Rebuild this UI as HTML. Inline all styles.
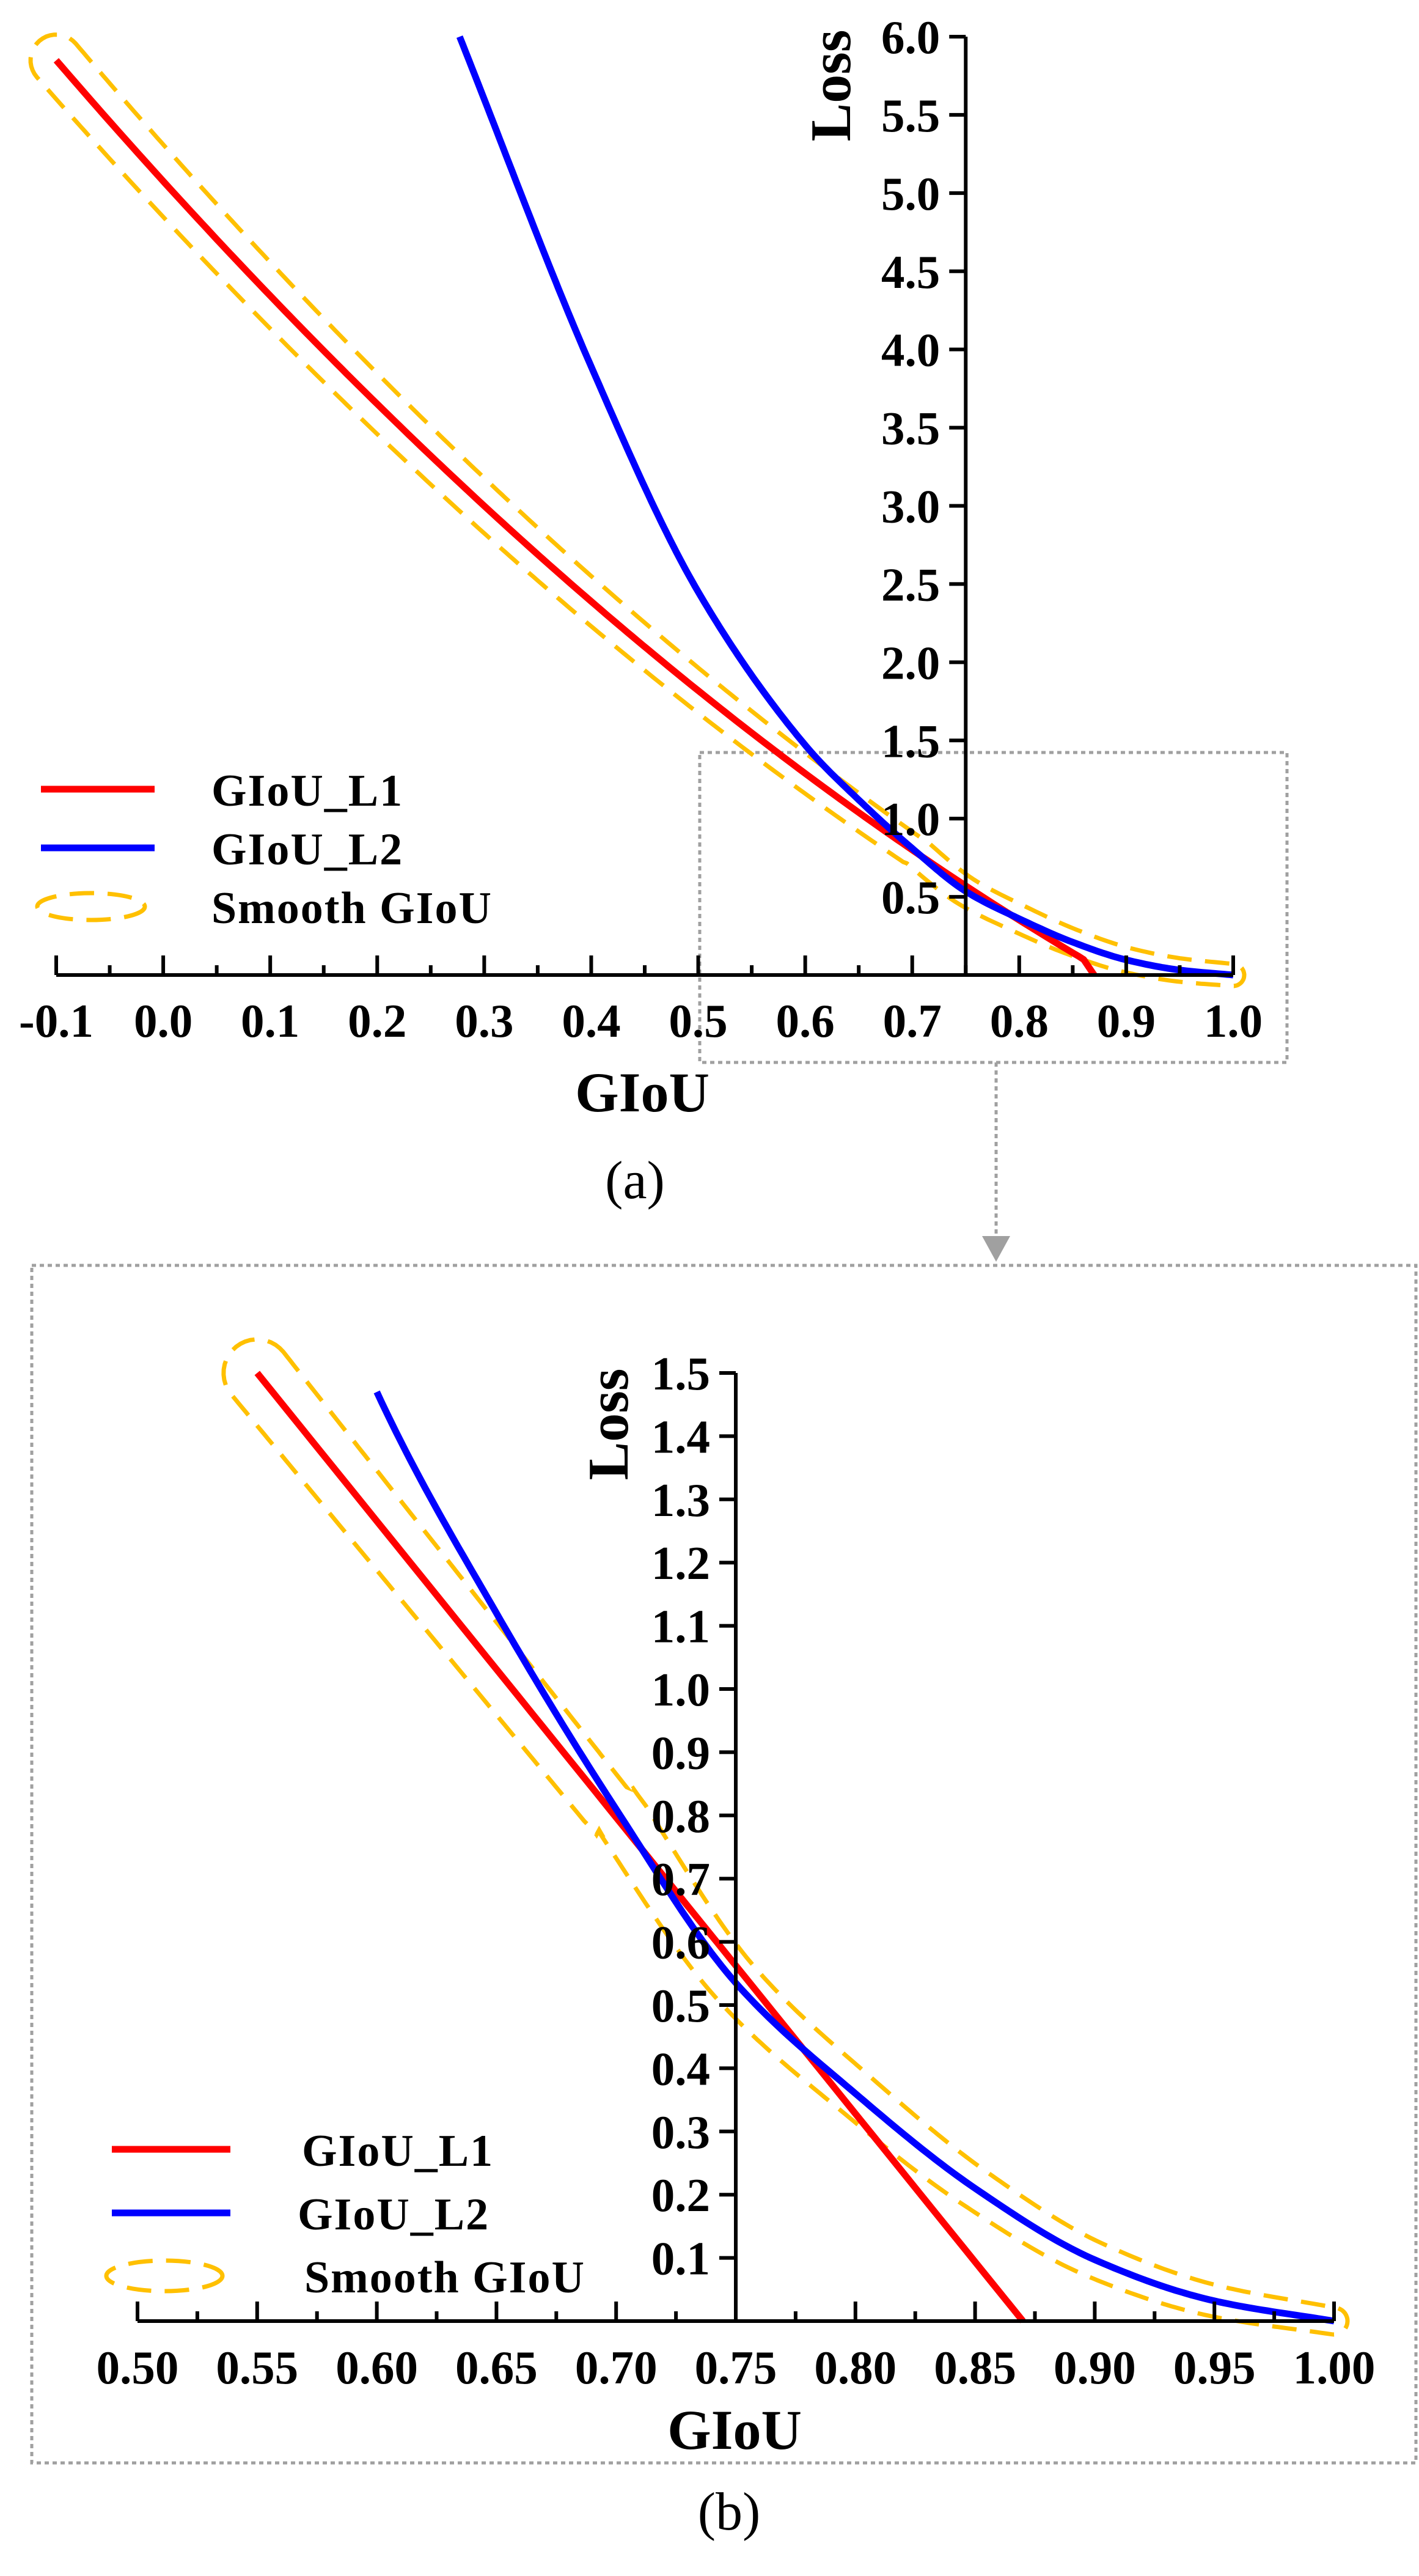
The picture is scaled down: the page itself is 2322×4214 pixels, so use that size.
<!DOCTYPE html>
<html><head><meta charset="utf-8">
<style>
html,body{margin:0;padding:0;background:#fff;}
svg{display:block;}
text{font-family:"Liberation Serif","Times New Roman",serif;font-weight:bold;fill:#000;}
</style></head>
<body>
<svg id="s" width="2322" height="4214" viewBox="0 0 2322 4214" xmlns="http://www.w3.org/2000/svg">
<rect width="2322" height="4214" fill="#fff"/>
<rect x="1145" y="1231" width="961" height="507" fill="none" stroke="#a0a0a0" stroke-width="5" stroke-dasharray="7 6"/>
<line x1="1630" y1="1738" x2="1630" y2="2030" stroke="#a0a0a0" stroke-width="5" stroke-dasharray="7 6"/>
<polygon points="1607,2022 1653,2022 1630,2064" fill="#a0a0a0"/>
<rect x="52" y="2070" width="2265" height="1959" fill="none" stroke="#a0a0a0" stroke-width="5" stroke-dasharray="7 6"/>
<text x="1039" y="1960" font-size="88" text-anchor="middle" style="font-weight:normal">(a)</text>
<text x="1193" y="4138" font-size="88" text-anchor="middle" style="font-weight:normal">(b)</text>
<g id="ga"></g>
<g id="gb"></g>
</svg>
<script>
var NS="http://www.w3.org/2000/svg";
function el(p,t,a,txt){var e=document.createElementNS(NS,t);for(var k in a)e.setAttribute(k,a[k]);if(txt!=null)e.textContent=txt;p.appendChild(e);return e;}
function sample(f,a,b,n){var o=[];for(var i=0;i<=n;i++){var x=a+(b-a)*i/n;o.push([x,f(x)]);}return o;}
function pathOf(p){return "M"+p.map(function(q){return q[0].toFixed(1)+","+q[1].toFixed(1)}).join(" L");}
function monotone(P){var n=P.length,d=[],m=[];for(var i=0;i<n-1;i++)d.push((P[i+1][1]-P[i][1])/(P[i+1][0]-P[i][0]));
 m[0]=d[0];m[n-1]=d[n-2];for(i=1;i<n-1;i++){m[i]=(d[i-1]*d[i]<=0)?0:2/(1/d[i-1]+1/d[i]);}
 return function(x){var i=0;while(i<n-2&&x>P[i+1][0])i++;var h=P[i+1][0]-P[i][0],t=(x-P[i][0])/h;if(t<0)t=0;if(t>1)t=1;var t2=t*t,t3=t2*t;
 return (2*t3-3*t2+1)*P[i][1]+(t3-2*t2+t)*h*m[i]+(-2*t3+3*t2)*P[i+1][1]+(t3-t2)*h*m[i+1];};}
function band(pts,w0,w1){var N=pts.length,up=[],lo=[],tn=[],nn=[];for(var i=0;i<N;i++){var a=pts[Math.max(i-2,0)],b=pts[Math.min(i+2,N-1)];var dx=b[0]-a[0],dy=b[1]-a[1],l=Math.hypot(dx,dy);var t=[dx/l,dy/l],n=[t[1],-t[0]];tn.push(t);nn.push(n);var w=w0+(w1-w0)*i/(N-1);up.push([pts[i][0]+n[0]*w,pts[i][1]+n[1]*w]);lo.push([pts[i][0]-n[0]*w,pts[i][1]-n[1]*w]);}
var res=up.slice();var P=pts[N-1],t=tn[N-1],n=nn[N-1];for(var k=1;k<20;k++){var an=Math.PI*k/20;res.push([P[0]+w1*(n[0]*Math.cos(an)+t[0]*Math.sin(an)),P[1]+w1*(n[1]*Math.cos(an)+t[1]*Math.sin(an))]);}
res=res.concat(lo.reverse());P=pts[0];t=tn[0];n=nn[0];for(k=1;k<20;k++){an=Math.PI*k/20;res.push([P[0]+w0*(-n[0]*Math.cos(an)-t[0]*Math.sin(an)),P[1]+w0*(-n[1]*Math.cos(an)-t[1]*Math.sin(an))]);}
return pathOf(res)+" Z";}
function panel(g,c){
 var X=function(v){return c.x0+(v-c.xmin)/(c.xmax-c.xmin)*(c.x1-c.x0)};
 var Y=function(v){return c.y0-(v)/(c.ymax)*(c.y0-c.y1)};
 var m=function(a){return a.map(function(p){return [X(p[0]),Y(p[1])]})};
 var ax=X(0.75);
 el(g,"path",{d:band(m(c.band),c.w0,c.w1),fill:"none",stroke:"#FFC000","stroke-width":7,"stroke-dasharray":"40 22"});
 el(g,"path",{d:pathOf(m(c.red)),fill:"none",stroke:"#ff0000","stroke-width":11,"stroke-linejoin":"round"});
 el(g,"path",{d:pathOf(m(c.blue)),fill:"none",stroke:"#0000ff","stroke-width":11,"stroke-linejoin":"round"});
 el(g,"line",{x1:c.x0,y1:c.y0,x2:c.x1,y2:c.y0,stroke:"#000","stroke-width":6});
 el(g,"line",{x1:ax,y1:c.y1,x2:ax,y2:c.y0,stroke:"#000","stroke-width":6});
 var nx=Math.round((c.xmax-c.xmin)/c.xs);
 for(var i=0;i<=nx;i++){var v=c.xmin+i*c.xs,x=X(v);el(g,"line",{x1:x,y1:c.y0,x2:x,y2:c.y0-32,stroke:"#000","stroke-width":6});
  el(g,"text",{x:x,y:c.xlb,"font-size":77,"text-anchor":"middle"},(Math.abs(v)<1e-9?0:v).toFixed(c.xd));
  if(i<nx){var xm=X(v+c.xs/2);el(g,"line",{x1:xm,y1:c.y0,x2:xm,y2:c.y0-16,stroke:"#000","stroke-width":6});}}
 var ny=Math.round(c.ymax/c.ys);
 for(i=1;i<=ny;i++){v=i*c.ys;var y=Y(v);el(g,"line",{x1:ax-27,y1:y,x2:ax,y2:y,stroke:"#000","stroke-width":6});
  el(g,"text",{x:ax-42,y:y+27,"font-size":77,"text-anchor":"end"},v.toFixed(1));}
 el(g,"text",{x:0,y:0,"font-size":94,"text-anchor":"middle",transform:"translate("+(c.lx+32)+","+c.ly+") rotate(-90)"},"Loss");
 el(g,"text",{x:c.gx,y:c.gy,"font-size":92,"text-anchor":"middle"},"GIoU");
 var L=c.leg;
 el(g,"line",{x1:L.x0,y1:L.y1,x2:L.x1,y2:L.y1,stroke:"#ff0000","stroke-width":11});
 el(g,"line",{x1:L.x0,y1:L.y2,x2:L.x1,y2:L.y2,stroke:"#0000ff","stroke-width":11});
 el(g,"ellipse",{cx:L.ex,cy:L.y3,rx:L.rx,ry:L.ry,fill:"none",stroke:"#FFC000","stroke-width":7,"stroke-dasharray":"40 22"});
 el(g,"text",{x:L.t1,y:L.y1+27,"font-size":74,"letter-spacing":"2"},"GIoU_L1");
 el(g,"text",{x:L.t2,y:L.y2+27,"font-size":74,"letter-spacing":"2"},"GIoU_L2");
 el(g,"text",{x:L.t3,y:L.y3+27,"font-size":74,"letter-spacing":"2"},"Smooth GIoU");
}
var blueF=monotone([[0.277,6.0],[0.4,3.89],[0.5,2.45],[0.6,1.47],[0.65,1.12],[0.7,0.81],[0.75,0.535],[0.8,0.36],[0.85,0.21],[0.9,0.097],[0.95,0.032],[1.0,0.0]]);
function redA(x){return Math.max(2.03*x*x-7.53*x+5.076,0);}
function redB(x){return Math.max(1.5-4.6875*(x-0.55),0);}
panel(document.getElementById("ga"),{x0:92,x1:2018,xmin:-0.1,xmax:1.0,y0:1595,y1:60,ymax:6.0,xs:0.1,xd:1,ys:0.5,xlb:1696,lx:1359,ly:140,gx:1051,gy:1818,
 red:sample(function(x){return x>=0.86?Math.max(redA(0.86)*(0.87-x)/0.01,0):redA(x)},-0.1,0.87,200),
 blue:sample(blueF,0.277,1.0,250),
 band:sample(function(x){return x<0.7?redA(x):blueF(x)},-0.1,1.0,300),
 w0:42,w1:18,
 leg:{x0:67,x1:253,y1:1291,y2:1387,y3:1483,ex:149,rx:88,ry:22,t1:346,t2:346,t3:346}});
panel(document.getElementById("gb"),{x0:225,x1:2183,xmin:0.5,xmax:1.0,y0:3797,y1:2246,ymax:1.5,xs:0.05,xd:2,ys:0.1,xlb:3899,lx:995,ly:2330,gx:1202,gy:4006,
 red:sample(redB,0.55,0.87,50),
 blue:sample(blueF,0.6,1.0,200),
 band:sample(function(x){return x<0.7?redB(x):blueF(x)},0.55,1.0,300),
 w0:55,w1:22,
 leg:{x0:183,x1:377,y1:3516,y2:3620,y3:3723,ex:269,rx:95,ry:25,t1:494,t2:487,t3:498}});
</script>
</body></html>
